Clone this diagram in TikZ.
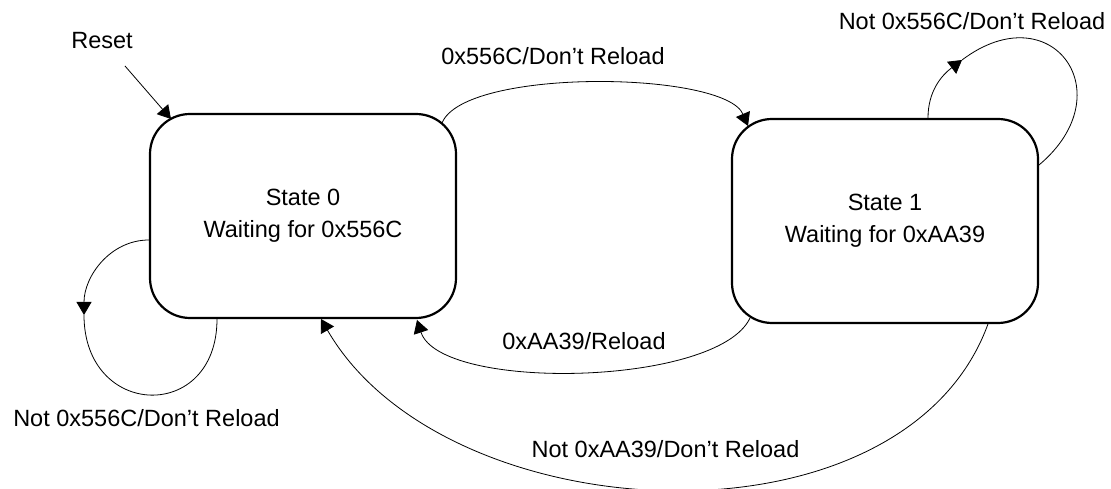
\documentclass[tikz,border=0pt]{standalone}
\usepackage{fontspec}
\setmainfont{Liberation Sans}
\usetikzlibrary{arrows.meta,calc}
\tikzset{
  stbox/.style ={rectangle, rounded corners=40pt, draw, line width=2.2pt,
                 minimum width=306pt, minimum height=204pt, align=center,
                 font=\fontsize{23.5}{32}\selectfont},
  lbl/.style   ={anchor=base, inner sep=0pt, font=\fontsize{23.5}{28}\selectfont},
  trans/.style ={-{Triangle[length=13pt,width=15pt]}, line width=0.8pt},
  transl/.style={line width=0.8pt},
}

\begin{document}
\begin{tikzpicture}[x=1pt,y=1pt]
\useasboundingbox (0,0) rectangle (1111,489);

% states
\node[stbox] (st0) at (303,273) {State 0\\ Waiting for 0x556C};
\node[stbox] (st1) at (885,268) {State 1\\ Waiting for 0xAA39};

% labels
\node[lbl] (rst)    at (102,440)   {Reset};
\node[lbl] (lbl01)  at (553,424)   {0x556C/Don't Reload};
\node[lbl] (lbl11)  at (972,459)   {Not 0x556C/Don't Reload};
\node[lbl] (lbl00)  at (146.5,62)  {Not 0x556C/Don't Reload};
\node[lbl] (lbl10)  at (584,139)   {0xAA39/Reload};
\node[lbl] (lbl10n) at (665.5,31)  {Not 0xAA39/Don't Reload};

\coordinate (rstin) at (125,423);
\coordinate (lp0) at (84,174);
\coordinate (lp1) at (962,429);

% reset
\draw[trans] (rstin) -- ([shift={(-132,97)}]st0.center);
% transitions
\draw[trans] ([shift={(139,93)}]st0.center) to[out=68,in=113,looseness=0.5] ([shift={(-137,95)}]st1.center);
\draw[trans] ([shift={(-135,-97)}]st1.center) to[out=245,in=288,looseness=0.58] ([shift={(114,-104)}]st0.center);
\draw[trans] ([shift={(103,-103)}]st1.center) to[out=250,in=300,looseness=0.95] ([shift={(18,-103)}]st0.center);
% self loops
\draw[trans] ([shift={(-154,-24)}]st0.center) to[out=180,in=90] (lp0);
\draw[transl] (lp0) to[out=270,in=270,looseness=2] ([shift={(-86,-103)}]st0.center);
\draw[trans] ([shift={(43,103)}]st1.center) to[out=90,in=217] (lp1);
\draw[transl] (lp1) to[out=37,in=40,looseness=2.2] ([shift={(154,56)}]st1.center);
\end{tikzpicture}
\end{document}
